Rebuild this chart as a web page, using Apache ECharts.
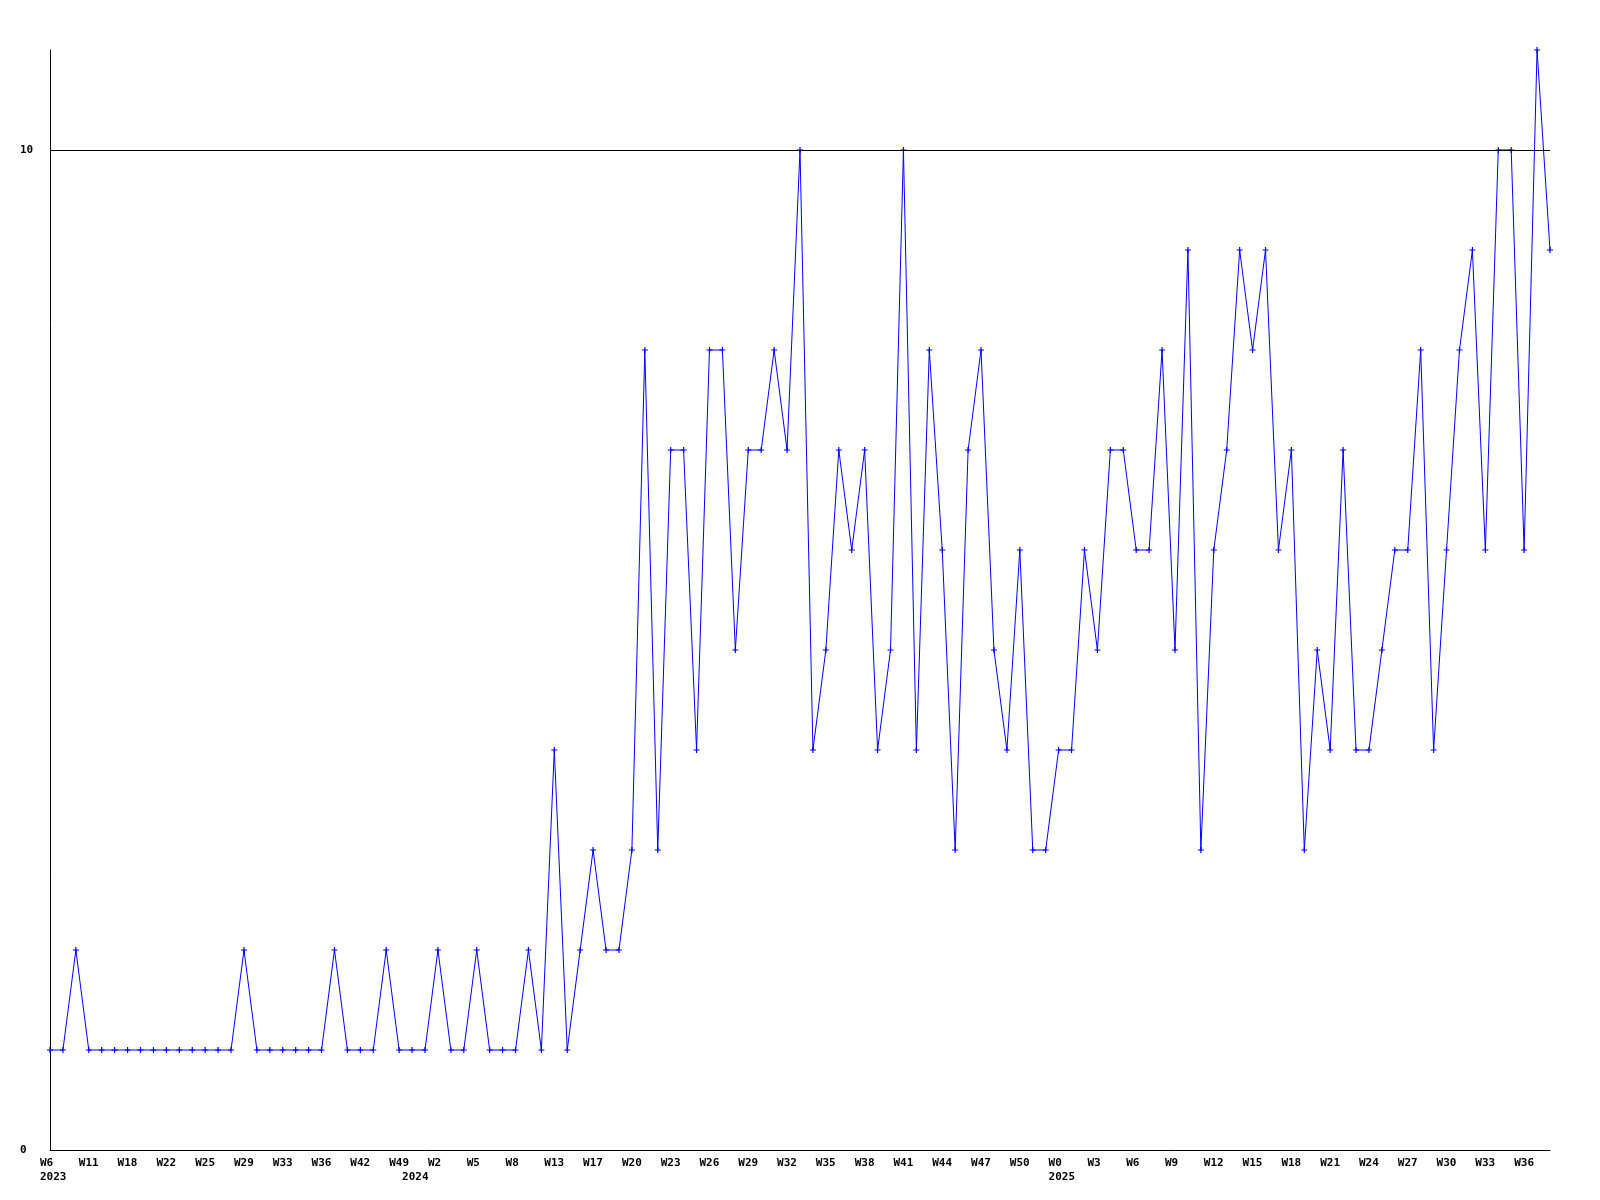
<!DOCTYPE html>
<html>
<head>
<meta charset="utf-8">
<title>weekly</title>
<script src="https://cdn.jsdelivr.net/npm/echarts@6/dist/echarts.min.js"></script>
<style>
  html, body { margin: 0; padding: 0; background: #fff; }
  #chart { width: 1600px; height: 1200px; }
</style>
</head>
<body>
<div id="chart"></div>
<script>
  // weeks per year (only every 3rd one gets a label)
  const weeks2023 = ['W6', 'W7', 'W9', 'W11', 'W13', 'W15', 'W18', 'W19', 'W21', 'W22', 'W23', 'W24', 'W25', 'W26',
    'W28', 'W29', 'W31', 'W32', 'W33', 'W34', 'W35', 'W36', 'W38', 'W40', 'W42', 'W44', 'W47', 'W49'];
  const weeks2024 = ['W0', 'W1', 'W2', 'W3', 'W4', 'W5', 'W6', 'W7', 'W8', 'W10', 'W12', 'W13', 'W14', 'W16',
    'W17', 'W18', 'W19', 'W20', 'W21', 'W22', 'W23', 'W24', 'W25', 'W26', 'W27', 'W28', 'W29', 'W30', 'W31',
    'W32', 'W33', 'W34', 'W35', 'W36', 'W37', 'W38', 'W39', 'W40', 'W41', 'W42', 'W43', 'W44', 'W45', 'W46',
    'W47', 'W48', 'W49', 'W50', 'W51', 'W52'];
  const weeks2025 = ['W0', 'W1', 'W2', 'W3', 'W4', 'W5', 'W6', 'W7', 'W8', 'W9', 'W10', 'W11', 'W12', 'W13',
    'W14', 'W15', 'W16', 'W17', 'W18', 'W19', 'W20', 'W21', 'W22', 'W23', 'W24', 'W25', 'W26', 'W27', 'W28',
    'W29', 'W30', 'W31', 'W32', 'W33', 'W34', 'W35', 'W36', 'W37', 'W38'];
  const years = ['2023', '2024', '2025'];

  const counts = [
    1, 1, 2, 1, 1, 1, 1, 1, 1, 1, 1, 1, 1, 1, 1, 2, 1, 1, 1, 1, 1, 1, 2, 1, 1, 1, 2, 1,
    1, 1, 2, 1, 1, 2, 1, 1, 1, 2, 1, 4, 1, 2, 3, 2, 2, 3, 8, 3, 7, 7, 4, 8, 8, 5, 7, 7,
    8, 7, 10, 4, 5, 7, 6, 7, 4, 5, 10, 4, 8, 6, 3, 7, 8, 5, 4, 6, 3, 3,
    4, 4, 6, 5, 7, 7, 6, 6, 8, 5, 9, 3, 6, 7, 9, 8, 9, 6, 7, 3, 5, 4, 7, 4, 4, 5,
    6, 6, 8, 4, 6, 8, 9, 6, 10, 10, 6, 11, 9
  ];

  const weeks = weeks2023.concat(weeks2024, weeks2025);
  const yearStart = {};
  yearStart[0] = years[0];
  yearStart[weeks2023.length] = years[1];
  yearStart[weeks2023.length + weeks2024.length] = years[2];

  const font = {
    fontFamily: 'DejaVu Sans Mono',
    fontWeight: 'bold',
    fontSize: 11,
    color: '#000'
  };

  let chart = echarts.init(document.getElementById('chart'));
  let option = {
    animation: false,
    backgroundColor: '#fff',
    grid: [
      {left: 50, right: 50, top: 50, bottom: 50},
      // same width, moved 10px left: the labels start just before their tick
      {left: 40, right: 60, top: 50, bottom: 50}
    ],
    xAxis: [
      {
        type: 'category',
        gridIndex: 0,
        data: weeks,
        boundaryGap: false,
        axisLine: {lineStyle: {color: '#000', width: 1}},
        axisTick: {show: false},
        axisLabel: {show: false},
        splitLine: {show: false}
      },
      {
        type: 'category',
        gridIndex: 1,
        data: weeks,
        boundaryGap: false,
        axisLine: {show: false},
        axisTick: {show: false},
        splitLine: {show: false},
        axisLabel: Object.assign({
          align: 'left',
          margin: 6,
          lineHeight: 14,
          interval: function (idx) {
            return idx % 3 === 0 || yearStart[idx] !== undefined;
          },
          formatter: function (value, idx) {
            let s = idx % 3 === 0 ? value : '';
            if (yearStart[idx] !== undefined) s += '\n' + yearStart[idx];
            return s;
          }
        }, font)
      }
    ],
    yAxis: [
      {
        type: 'value',
        gridIndex: 0,
        min: 0,
        max: 11,
        interval: 10,
        axisLine: {show: true, lineStyle: {color: '#000', width: 1}},
        axisTick: {show: false},
        splitLine: {show: false},
        axisLabel: Object.assign({
          align: 'left',
          margin: 30,
          showMaxLabel: false
        }, font)
      },
      {
        type: 'value',
        gridIndex: 1,
        min: 0,
        max: 11,
        show: false
      }
    ],
    series: [
      {
        type: 'line',
        xAxisIndex: 0,
        yAxisIndex: 0,
        data: counts,
        symbol: 'path://M2,0H3V2H5V3H3V5H2V3H0V2H2Z',
        symbolSize: 6,
        showAllSymbol: true,
        itemStyle: {color: '#0000ff'},
        lineStyle: {color: '#0000ff', width: 1},
        markLine: {
          silent: true,
          symbol: 'none',
          label: {show: false},
          lineStyle: {color: '#000', width: 1, type: 'solid'},
          data: [{yAxis: 10}]
        }
      }
    ]
  };
  chart.setOption(option, true);
</script>
</body>
</html>
